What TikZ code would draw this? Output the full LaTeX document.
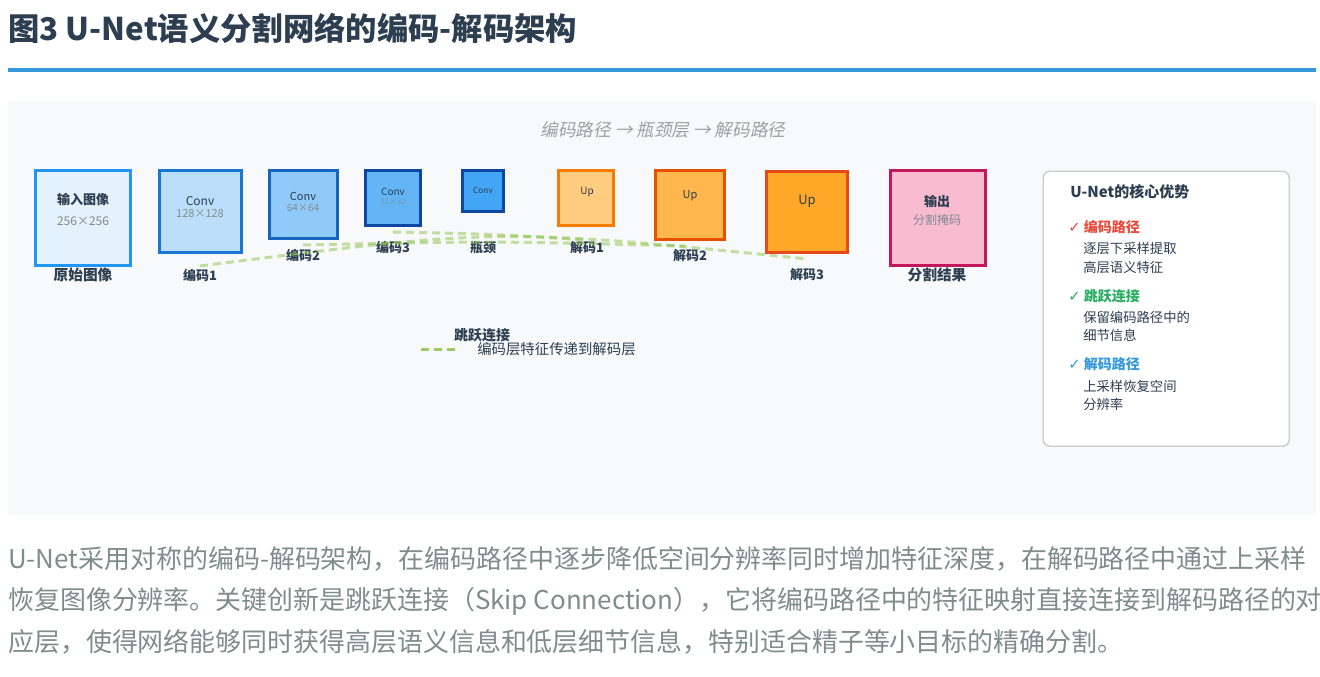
\documentclass[tikz,border=0pt]{standalone}
\usepackage{fontspec}
\setmainfont{Noto Sans CJK SC}
\newfontfamily\slcjk[FakeSlant=0.2]{Noto Sans CJK SC}
\newfontfamily\symf{DejaVu Sans}
\newcommand\fsz[1]{\fontsize{#1}{#1}\selectfont}
\definecolor{ink}{HTML}{2C3E50}
\definecolor{greytxt}{HTML}{7F8C8D}
\definecolor{panel}{HTML}{F8F9FA}
\definecolor{rule}{HTML}{3498DB}
\definecolor{skipc}{HTML}{8BC34A}
\definecolor{redc}{HTML}{E74C3C}
\definecolor{greenc}{HTML}{27AE60}
\definecolor{bluec}{HTML}{3498DB}
\definecolor{inf}{HTML}{E3F2FD}\definecolor{ins}{HTML}{2196F3}
\definecolor{c1f}{HTML}{BBDEFB}\definecolor{c1s}{HTML}{1976D2}
\definecolor{c2f}{HTML}{90CAF9}\definecolor{c2s}{HTML}{1565C0}
\definecolor{c3f}{HTML}{64B5F6}\definecolor{c3s}{HTML}{0D47A1}
\definecolor{bnf}{HTML}{42A5F5}
\definecolor{u1f}{HTML}{FFCC80}\definecolor{u1s}{HTML}{F57C00}
\definecolor{u2f}{HTML}{FFB74D}\definecolor{u2s}{HTML}{E65100}
\definecolor{u3f}{HTML}{FFA726}\definecolor{u3s}{HTML}{E64A19}
\definecolor{otf}{HTML}{F8BBD0}\definecolor{ots}{HTML}{C2185B}
\definecolor{lgb}{HTML}{CCCCCC}
\begin{document}
\begin{tikzpicture}[x=0.75pt,y=-0.75pt,
  box/.style={draw, line width=2.25pt, inner sep=0pt, minimum size=0.75*#1, rectangle},
  lbl/.style={text=ink, font=\bfseries\fsz{9.75}, inner sep=0pt},
  inner/.style={text=ink, inner sep=0pt},
  sub/.style={text=greytxt, inner sep=0pt},
  skipline/.style={draw=skipc, line width=2.25pt, dash pattern=on 6pt off 3.75pt, opacity=0.5},
  leg/.style={anchor=west, inner sep=0pt, text=ink, font=\fsz{10}},
  legh/.style={anchor=west, inner sep=0pt, font=\bfseries\fsz{10.5}},
  para/.style={anchor=west, inner sep=0pt, text=greytxt, font=\fsz{19.45}}
]
\useasboundingbox (0,0) rectangle (1320,676);
\fill[white] (0,0) rectangle (1320,676);
% title
\node[anchor=west, inner sep=0pt, text=ink, font=\bfseries\fsz{23.5}] (title) at (8,28) {图3 U-Net语义分割网络的编码-解码架构};
\fill[rule] (8,68) rectangle (1316,72);
% panel
\fill[panel] (8,101) rectangle (1316,515);
\node[inner sep=0pt, text=greytxt!80, font=\slcjk\fsz{13.2}] (subt) at (663,130) {编码路径 → 瓶颈层 → 解码路径};
% boxes
\node[box=95, fill=inf, draw=ins] (in) at (83,218) {};
\node[box=82, fill=c1f, draw=c1s] (e1) at (200.5,211.5) {};
\node[box=68, fill=c2f, draw=c2s] (e2) at (303.5,204) {};
\node[box=55, fill=c3f, draw=c3s] (e3) at (393,197.5) {};
\node[box=41, fill=bnf, draw=c3s] (bn) at (483,191) {};
\node[box=55, fill=u1f, draw=u1s] (d1) at (586,197.5) {};
\node[box=69, fill=u2f, draw=u2s] (d2) at (690,204.5) {};
\node[box=81, fill=u3f, draw=u3s] (d3) at (807,211.5) {};
\node[box=95, fill=otf, draw=ots] (out) at (937.5,218) {};
% inner texts
\node[inner, font=\bfseries\fsz{9.75}] (inT) at (83,200) {输入图像};
\node[sub, font=\fsz{9}] (inS) at (83,221) {256×256};
\node[inner, font=\fsz{9}] (e1T) at (200,201) {Conv};
\node[sub, font=\fsz{8.25}] (e1S) at (200,214) {128×128};
\node[inner, font=\fsz{8.25}] (e2T) at (303,196) {Conv};
\node[sub, font=\fsz{7.5}] (e2S) at (303,208) {64×64};
\node[inner, font=\fsz{7.5}] (e3T) at (393,192) {Conv};
\node[sub, font=\fsz{6}, text=greytxt!70!c3f] (e3S) at (393,202) {32×32};
\node[inner, font=\fsz{6.2}] (bnT) at (483,190) {Conv};
\node[inner, font=\fsz{7.5}] (d1T) at (587,192) {Up};
\node[inner, font=\fsz{8.25}] (d2T) at (690,196) {Up};
\node[inner, font=\fsz{9.75}] (d3T) at (807,201) {Up};
\node[inner, font=\bfseries\fsz{9.75}] (outT) at (937,201) {输出};
\node[sub, font=\fsz{9}] (outS) at (937,220) {分割掩码};
% labels
\node[lbl, font=\bfseries\fsz{11}] (inL) at (83,275) {原始图像};
\node[lbl] (e1L) at (200,275) {编码1};
\node[lbl] (e2L) at (303,255) {编码2};
\node[lbl] (e3L) at (393,247) {编码3};
\node[lbl] (bnL) at (483,248) {瓶颈};
\node[lbl] (d1L) at (587,248) {解码1};
\node[lbl] (d2L) at (690,256) {解码2};
\node[lbl] (d3L) at (807,275) {解码3};
\node[lbl, font=\bfseries\fsz{11}] (outL) at (937,275) {分割结果};
% skip connections
\coordinate (s1a) at (200,266); \coordinate (s1b) at (808,259);
\coordinate (s2a) at (303,245); \coordinate (s2b) at (685,246);
\coordinate (s3a) at (393,232); \coordinate (s3b) at (587,240);
\draw[skipline] (s1a) .. controls (500,228) .. (s1b);
\draw[skipline] (s2a) .. controls (494,241) .. (s2b);
\draw[skipline] (s3a) .. controls (490,234) .. (s3b);
% skip legend
\coordinate (lsa) at (421,349); \coordinate (lsb) at (460,349);
\draw[skipline, opacity=0.85] (lsa) -- (lsb);
\node[lbl, font=\bfseries\fsz{10.5}] (skT) at (482,335) {跳跃连接};
\node[leg, font=\fsz{10.8}] (skD) at (477,349) {编码层特征传递到解码层};
% legend panel
\node[draw=lgb, fill=white, line width=1.1pt, rounded corners=5pt, inner sep=0pt, minimum width=0.75*246, minimum height=0.75*275, anchor=north west] (legend) at (1042.5,170.5) {};
\node[legh, text=ink, font=\bfseries\fsz{11.25}] (lgT) at (1070,192) {U-Net的核心优势};
\node[legh, text=redc] (lg1) at (1068,227) {{\symf\fsz{11}✓} 编码路径};
\node[leg] (lg1a) at (1083,248) {逐层下采样提取};
\node[leg] (lg1b) at (1083,267) {高层语义特征};
\node[legh, text=greenc] (lg2) at (1068,296) {{\symf\fsz{11}✓} 跳跃连接};
\node[leg] (lg2a) at (1083,317) {保留编码路径中的};
\node[leg] (lg2b) at (1083,335) {细节信息};
\node[legh, text=bluec] (lg3) at (1068,364) {{\symf\fsz{11}✓} 解码路径};
\node[leg] (lg3a) at (1083,386) {上采样恢复空间};
\node[leg] (lg3b) at (1083,404) {分辨率};
% paragraph
\node[para] (p1) at (8,559) {U-Net采用对称的编码-解码架构，在编码路径中逐步降低空间分辨率同时增加特征深度，在解码路径中通过上采样};
\node[para] (p2) at (8,601) {恢复图像分辨率。关键创新是跳跃连接（Skip Connection），它将编码路径中的特征映射直接连接到解码路径的对};
\node[para] (p3) at (8,642) {应层，使得网络能够同时获得高层语义信息和低层细节信息，特别适合精子等小目标的精确分割。};
\end{tikzpicture}
\end{document}
